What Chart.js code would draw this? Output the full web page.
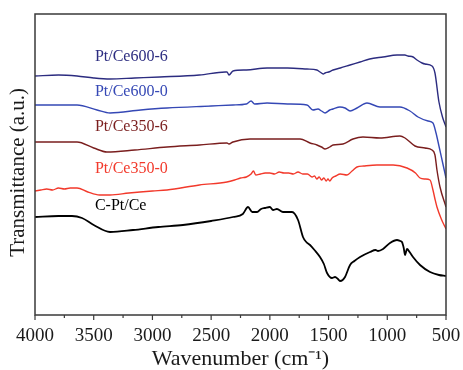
<!DOCTYPE html>
<html>
<head>
<meta charset="utf-8">
<script src="https://cdn.jsdelivr.net/npm/chart.js@4/dist/chart.umd.min.js"></script>
<style>
  html, body { margin: 0; padding: 0; background: #fff; }
  #wrap { width: 463px; height: 370px; position: relative; }
</style>
</head>
<body>
<div id="wrap"><canvas id="ftir"></canvas></div>
<script>
// 样品名称（从上到下）
const seriesNames = ["Pt/Ce600-6", "Pt/Ce600-0", "Pt/Ce350-6", "Pt/Ce350-0", "C-Pt/Ce"];
const seriesColors = ["#2c2c80", "#3548b5", "#7a1e1e", "#f2392b", "#000000"];

// 波数 / 透过率（任意单位，已含偏移）
const wn600_6 = [4000, 3800, 3642, 3500, 3361, 3150, 2936, 2600, 2380, 2365, 2348, 2314, 2200, 2024, 1850, 1684, 1600, 1573, 1545, 1530, 1500, 1462, 1400, 1317, 1232, 1150, 1036, 917, 850, 824, 780, 747, 704, 679, 619, 594, 560, 530, 500];
const t600_6  = [238, 239, 238, 236, 235, 236, 237, 239, 242, 242, 239, 243, 244, 246, 246, 245, 244, 242, 240, 241, 242, 244, 246, 249, 252, 255, 257, 259, 259, 258, 257, 254, 251, 250, 248, 241, 212, 197, 187];

const wn600_0 = [4000, 3800, 3642, 3472, 3361, 3100, 2876, 2500, 2314, 2200, 2160, 2130, 2024, 1850, 1684, 1633, 1590, 1560, 1530, 1490, 1462, 1403, 1360, 1317, 1258, 1173, 1062, 892, 807, 738, 653, 611, 585, 560, 530, 500];
const t600_0  = [209, 209, 209, 204, 201, 204, 206, 208, 209, 210, 213, 210, 211, 210, 209, 204, 205, 203, 201, 204, 205, 207, 206, 203, 206, 211, 207, 207, 203, 197, 193, 191, 181, 168, 152, 136];

const wn350_6 = [4000, 3800, 3642, 3500, 3387, 3150, 2876, 2600, 2365, 2348, 2314, 2169, 1950, 1743, 1658, 1599, 1560, 1530, 1490, 1462, 1377, 1292, 1207, 1062, 892, 849, 764, 679, 619, 594, 577, 551, 500];
const t350_6  = [172, 172, 172, 166, 162, 164, 167, 169, 171, 170, 172, 175, 175, 175, 171, 169, 167, 165, 167, 169, 170, 175, 177, 176, 178, 176, 168, 166, 164, 159, 144, 127, 107];

const wn350_0 = [4000, 3950, 3900, 3850, 3800, 3750, 3700, 3642, 3550, 3450, 3361, 3200, 3000, 2876, 2600, 2365, 2300, 2250, 2200, 2160, 2140, 2120, 2080, 2040, 2000, 1960, 1920, 1880, 1840, 1800, 1760, 1720, 1680, 1640, 1620, 1600, 1580, 1560, 1540, 1520, 1505, 1490, 1470, 1440, 1400, 1343, 1300, 1258, 1200, 1088, 950, 832, 760, 721, 680, 636, 611, 594, 577, 540, 500];
const t350_0  = [123, 124, 125, 124, 126, 125, 126, 126, 122, 119, 119, 121, 123, 124, 129, 132, 134, 136, 137, 140, 143, 139, 140, 141, 141, 140, 142, 141, 141, 140, 142, 140, 140, 137, 138, 135, 137, 134, 136, 133, 135, 133, 136, 138, 140, 139, 143, 147, 148, 149, 149, 146, 141, 136, 135, 134, 124, 115, 107, 95, 85];

const wnC = [4000, 3800, 3685, 3600, 3500, 3361, 3165, 2950, 2740, 2500, 2314, 2230, 2186, 2150, 2109, 2075, 2041, 2000, 1973, 1940, 1888, 1811, 1760, 1718, 1690, 1658, 1620, 1573, 1540, 1513, 1471, 1445, 1420, 1403, 1380, 1360, 1317, 1280, 1232, 1147, 1100, 1079, 1036, 977, 917, 890, 875, 860, 849, 832, 810, 781, 721, 636, 560, 500];
const tC  = [97, 98, 98, 96, 89, 82, 84, 87, 89, 93, 97, 100, 107, 102, 102, 105, 106, 107, 104, 105, 102, 102, 94, 77, 72, 69, 64, 57, 50, 41, 36, 37, 35, 33, 34, 37, 49, 53, 57, 62, 64, 63, 65, 71, 74, 73, 72, 66, 59, 65, 62, 57, 49, 42, 39, 38];

// 刻度
const majorTicks = [4000, 3500, 3000, 2500, 2000, 1500, 1000, 500];
const minorTicks = [3750, 3250, 2750, 2250, 1750, 1250, 750];

// 曲线标签位置（数据坐标）
const labelWn = 3490;
const labelT = [257, 222, 187, 145, 108];

const wnList = [wn600_6, wn600_0, wn350_6, wn350_0, wnC];
const tList = [t600_6, t600_0, t350_6, t350_0, tC];

const SERIF = "'Liberation Serif', 'Times New Roman', serif";

// 边框 + 刻度线 + 曲线标签
const framePlugin = {
    id: "frame",
    afterDatasetsDraw(chart) {
        const { ctx, chartArea: a, scales } = chart;
        ctx.save();
        ctx.strokeStyle = "#3a3a3a";
        ctx.lineWidth = 1.5;
        ctx.strokeRect(a.left, a.top, a.right - a.left, a.bottom - a.top);
        ctx.lineWidth = 1.2;
        ctx.beginPath();
        majorTicks.forEach(v => {
            const x = scales.x.getPixelForValue(v);
            ctx.moveTo(x, a.bottom);
            ctx.lineTo(x, a.bottom + 5);
        });
        minorTicks.forEach(v => {
            const x = scales.x.getPixelForValue(v);
            ctx.moveTo(x, a.bottom);
            ctx.lineTo(x, a.bottom + 3);
        });
        ctx.stroke();

        ctx.font = "16px " + SERIF;
        ctx.textAlign = "left";
        ctx.textBaseline = "middle";
        seriesNames.forEach((name, i) => {
            ctx.fillStyle = seriesColors[i];
            ctx.fillText(name, scales.x.getPixelForValue(labelWn), scales.y.getPixelForValue(labelT[i]));
        });
        ctx.restore();
    }
};

const datasets = seriesNames.map((name, i) => ({
    label: name,
    data: wnList[i].map((w, k) => ({ x: w, y: tList[i][k] })),
    borderColor: seriesColors[i],
    borderWidth: i === 4 ? 1.8 : 1.4,
    pointRadius: 0,
    cubicInterpolationMode: "monotone",
    fill: false
}));

new Chart(document.getElementById("ftir"), {
    type: "line",
    data: { datasets },
    options: {
        responsive: true,
        maintainAspectRatio: false,
        animation: false,
        layout: { padding: { top: 14, right: 17, left: 0, bottom: 0 } },
        plugins: { legend: { display: false }, tooltip: { enabled: false } },
        scales: {
            x: {
                type: "linear",
                reverse: true,
                min: 500,
                max: 4000,
                grid: { display: false, drawTicks: false },
                border: { display: false },
                ticks: {
                    stepSize: 500,
                    autoSkip: false,
                    maxRotation: 0,
                    padding: 10,
                    color: "#1a1a1a",
                    font: { family: SERIF, size: 19 },
                    callback: v => String(v)
                },
                title: {
                    display: true,
                    text: "Wavenumber (cm⁻¹)",
                    color: "#1a1a1a",
                    font: { family: SERIF, size: 22, lineHeight: 1 },
                    padding: 0
                },
                afterFit: s => { s.height = 55; s.paddingLeft = 0; s.paddingRight = 0; }
            },
            y: {
                min: -1,
                max: 300,
                grid: { display: false, drawTicks: false },
                border: { display: false },
                ticks: { display: false },
                title: {
                    display: true,
                    text: "Transmittance (a.u.)   ",
                    color: "#1a1a1a",
                    font: { family: SERIF, size: 21, lineHeight: 1 },
                    padding: { top: 8, bottom: 0 }
                },
                afterFit: s => { s.width = 35; }
            }
        }
    },
    plugins: [framePlugin]
});
</script>
</body>
</html>
